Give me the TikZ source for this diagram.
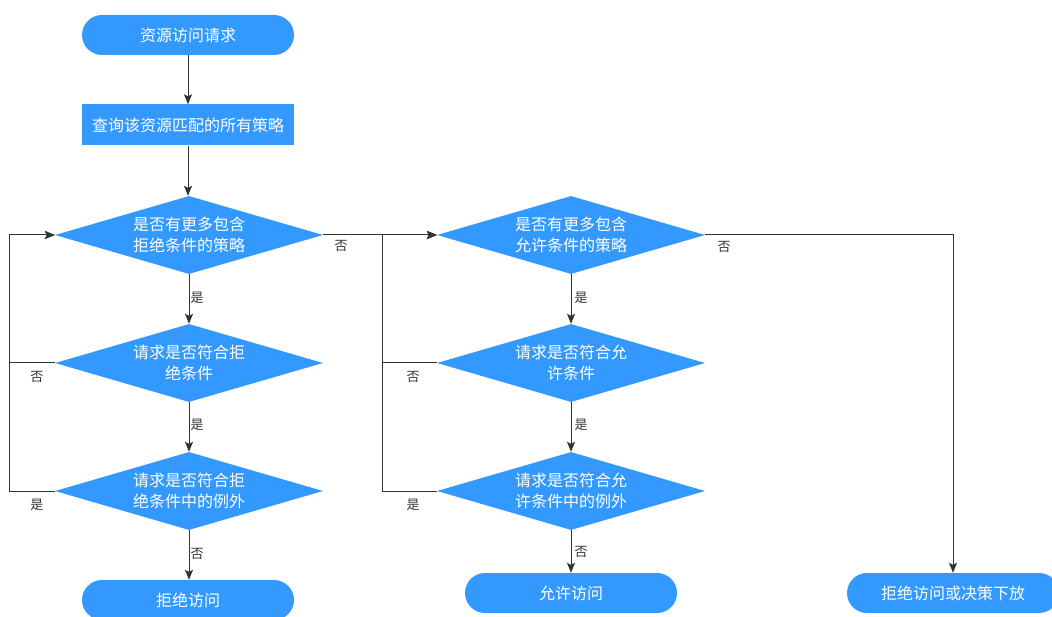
\documentclass[tikz,border=0pt]{standalone}
\usepackage{fontspec}
\setmainfont{Noto Sans CJK SC}
\usetikzlibrary{shapes.geometric,arrows.meta}
\definecolor{flowblue}{HTML}{3399FF}
\definecolor{linegray}{HTML}{333333}
\tikzset{
  pill/.style={rectangle, fill=flowblue, draw=none, rounded corners=20pt, minimum width=212pt, minimum height=40pt, inner sep=0pt, text=white, font=\fontsize{16}{21}\selectfont},
  procbox/.style={rectangle, fill=flowblue, draw=none, minimum width=212pt, minimum height=41pt, inner sep=0pt, text=white, font=\fontsize{16}{21}\selectfont},
  decision/.style={diamond, fill=flowblue, draw=none, shape aspect=3.4, minimum width=268pt, minimum height=78pt, inner sep=0pt, text=white, align=center, font=\fontsize{16}{21}\selectfont},
  conn/.style={draw=linegray, line width=1pt},
  arr/.style={conn, -{Stealth[length=10pt,width=8pt,inset=2pt]}},
  lbl/.style={text=linegray, font=\fontsize{13}{15}\selectfont, inner sep=0pt},
}
\begin{document}
\begin{tikzpicture}[x=1pt,y=-1pt]
\useasboundingbox[fill=white] (0,0) rectangle (1052,617);
% left column
\node[pill] (start) at (188,35) {资源访问请求};
\node[procbox] (query) at (188,125) {查询该资源匹配的所有策略};
\node[decision] (d1) at (189,235) {是否有更多包含\\拒绝条件的策略};
\node[decision] (d2) at (189,363) {请求是否符合拒\\绝条件};
\node[decision] (d3) at (189,491) {请求是否符合拒\\绝条件中的例外};
\node[pill] (deny) at (188,600) {拒绝访问};
% middle column
\node[decision] (d4) at (571,235) {是否有更多包含\\允许条件的策略};
\node[decision] (d5) at (571,363) {请求是否符合允\\许条件};
\node[decision] (d6) at (571,491) {请求是否符合允\\许条件中的例外};
\node[pill] (allow) at (571,593) {允许访问};
% right
\node[pill] (delegate) at (953,593) {拒绝访问或决策下放};

% connectors
\draw[arr] (start) -- (query);
\draw[arr] (query.south) -- (query.south |- d1.north);
\draw[arr] (d1.south) -- (d2.north);
\draw[arr] (d2.south) -- (d3.north);
\draw[arr] (d3.south) -- (d3.south |- deny.north);
\draw[arr] (d2.west) -- ++(-45,0) |- (d1.west);
\draw[arr] (d3.west) -- ++(-45,0) |- (d1.west);
\draw[arr] (d1.east) -- (d4.west);
\draw[arr] (d4.south) -- (d5.north);
\draw[arr] (d5.south) -- (d6.north);
\draw[arr] (d6.south) -- (allow.north);
\draw[arr] (d5.west) -- ++(-54,0) |- (d4.west);
\draw[arr] (d6.west) -- ++(-54,0) |- (d4.west);
\draw[arr] (d4.east) -| (delegate.north);

% labels
\node[lbl] (l1) at (197,298) {是};
\node[lbl] (l2) at (197,425) {是};
\node[lbl] (l3) at (197,554) {否};
\node[lbl] (l4) at (37,377) {否};
\node[lbl] (l5) at (37,505) {是};
\node[lbl] (l6) at (341,246) {否};
\node[lbl] (l7) at (581,298) {是};
\node[lbl] (l8) at (581,425) {是};
\node[lbl] (l9) at (581,552) {否};
\node[lbl] (l10) at (413,377) {否};
\node[lbl] (l11) at (413,505) {是};
\node[lbl] (l12) at (724,247) {否};
\end{tikzpicture}
\end{document}
